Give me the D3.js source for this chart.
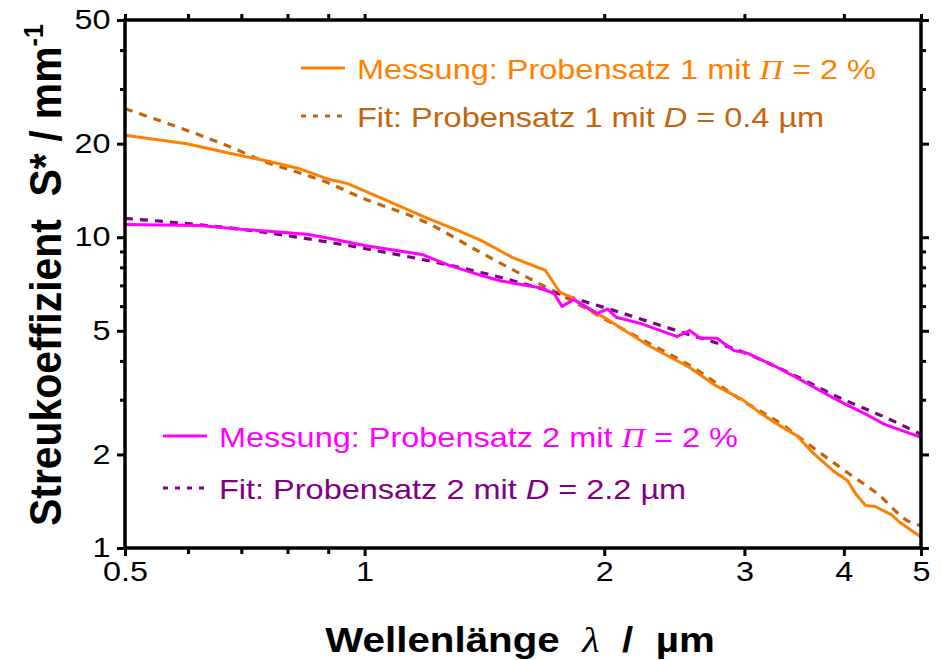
<!DOCTYPE html>
<html>
<head>
<meta charset="utf-8">
<script src="https://cdn.jsdelivr.net/npm/d3@7"></script>
<style>
  body { margin: 0; background: #fff; }
  text { font-family: "Liberation Sans", Arial, sans-serif; white-space: pre; }
</style>
</head>
<body>
<div id="chart"></div>
<script>
// data
var xMajor = [0.5, 1, 2, 3, 4, 5];
var xMinor = [0.6, 0.7, 0.8, 0.9];
var yMajor = [1, 2, 5, 10, 20, 50];
var yMinor = [3, 4, 6, 7, 8, 9, 30, 40];

var meas1Lambda = [0.5, 0.598, 0.672, 0.754, 0.829, 0.898, 0.95, 1.046, 1.2, 1.3, 1.4, 1.535, 1.686, 1.76, 1.82, 1.94, 2.01, 2.27, 2.56, 2.75, 2.99, 3.14, 3.32, 3.49, 3.66, 3.87, 4.04, 4.15, 4.26, 4.38, 4.59, 4.7, 5.0];
var meas1S      = [21.3, 20.0, 18.7, 17.6, 16.6, 15.4, 14.9, 13.4, 11.5, 10.6, 9.77, 8.6, 7.83, 6.64, 6.40, 5.73, 5.48, 4.49, 3.81, 3.35, 2.99, 2.72, 2.48, 2.30, 2.02, 1.78, 1.65, 1.48, 1.37, 1.36, 1.28, 1.21, 1.085];

var fit1Lambda = [0.5, 0.609, 0.672, 0.754, 0.829, 0.898, 0.978, 1.2, 1.4, 1.61, 1.8, 2.07, 2.24, 2.56, 3.0, 3.32, 3.6, 4.04, 4.4, 4.85, 5.0];
var fit1S      = [25.9, 21.7, 19.7, 17.4, 16.1, 15.0, 13.6, 11.1, 8.92, 7.37, 6.35, 5.2, 4.66, 3.87, 2.95, 2.53, 2.17, 1.75, 1.50, 1.21, 1.18];

var meas2Lambda = [0.5, 0.62, 0.7, 0.78, 0.85, 0.905, 1.0, 1.18, 1.28, 1.4, 1.48, 1.66, 1.73, 1.77, 1.83, 1.96, 2.02, 2.07, 2.22, 2.47, 2.56, 2.64, 2.77, 2.91, 3.03, 3.3, 3.5, 3.87, 4.0, 4.28, 4.5, 5.0];
var meas2S      = [10.99, 10.9, 10.6, 10.4, 10.2, 9.9, 9.4, 8.8, 8.1, 7.54, 7.24, 6.88, 6.59, 5.99, 6.3, 5.69, 5.87, 5.53, 5.28, 4.79, 5.01, 4.73, 4.73, 4.32, 4.23, 3.81, 3.52, 3.05, 2.92, 2.68, 2.5, 2.27];

var fit2Lambda = [0.5, 0.7, 1.0, 1.4, 2.0, 2.5, 3.0, 3.5, 4.0, 4.5, 5.0];
var fit2S      = [11.5, 10.6, 9.2, 7.7, 5.94, 4.95, 4.25, 3.55, 3.0, 2.64, 2.32];

var width = 941;
var height = 660;
var mLeft = 125, mRight = 921, mTop = 20, mBottom = 548;
var stretch = 1.2;

var svg = d3.select("#chart")
  .append("svg")
    .attr("width", width)
    .attr("height", height);

var x = d3.scaleLog().domain([0.5, 5]).range([mLeft, mRight]);
var y = d3.scaleLog().domain([1, 50]).range([mBottom, mTop]);

function zip(a, b) { return a.map(function(v, i) { return [v, b[i]]; }); }

var line = d3.line()
  .x(function(d) { return x(d[0]); })
  .y(function(d) { return y(d[1]); });
var smooth = d3.line()
  .x(function(d) { return x(d[0]); })
  .y(function(d) { return y(d[1]); })
  .curve(d3.curveMonotoneX);

// curves
svg.append("path").datum(zip(fit1Lambda, fit1S))
  .attr("d", smooth).attr("fill", "none")
  .attr("stroke", "#c4650c").attr("stroke-width", 3.2).attr("stroke-dasharray", "8,7");
svg.append("path").datum(zip(fit2Lambda, fit2S))
  .attr("d", smooth).attr("fill", "none")
  .attr("stroke", "#800080").attr("stroke-width", 3.2).attr("stroke-dasharray", "8,7");
svg.append("path").datum(zip(meas1Lambda, meas1S))
  .attr("d", line).attr("fill", "none")
  .attr("stroke", "#ff8000").attr("stroke-width", 3).attr("stroke-linejoin", "round");
svg.append("path").datum(zip(meas2Lambda, meas2S))
  .attr("d", line).attr("fill", "none")
  .attr("stroke", "#ff00ff").attr("stroke-width", 3).attr("stroke-linejoin", "round");

// axes
function styleAxis(g) {
  g.select(".domain").remove();
  g.selectAll("line").attr("stroke", "#000").attr("stroke-width", 3);
  g.selectAll("text").attr("fill", "#000").style("font-size", "27px");
}

var bottomAx = svg.append("g").attr("transform", "translate(0," + mBottom + ")")
  .call(d3.axisBottom(x).tickValues(xMajor).tickFormat(d3.format("")).tickSize(8).tickPadding(6))
  .call(styleAxis);
bottomAx.selectAll("text").attr("transform", "scale(" + stretch + ",1)");
svg.append("g").attr("transform", "translate(0," + mBottom + ")")
  .call(d3.axisBottom(x).tickValues(xMinor).tickFormat("").tickSize(6)).call(styleAxis);

svg.append("g").attr("transform", "translate(0," + mTop + ")")
  .call(d3.axisTop(x).tickValues(xMajor.concat(xMinor)).tickFormat("").tickSize(6)).call(styleAxis);

var leftAx = svg.append("g").attr("transform", "translate(" + mLeft + ",0)")
  .call(d3.axisLeft(y).tickValues(yMajor).tickFormat(d3.format("")).tickSize(8).tickPadding(4))
  .call(styleAxis);
leftAx.selectAll("text").attr("transform", "scale(" + stretch + ",1)");
svg.append("g").attr("transform", "translate(" + mLeft + ",0)")
  .call(d3.axisLeft(y).tickValues(yMinor).tickFormat("").tickSize(5)).call(styleAxis);

svg.append("g").attr("transform", "translate(" + mRight + ",0)")
  .call(d3.axisRight(y).tickValues(yMajor).tickFormat("").tickSize(8)).call(styleAxis);
svg.append("g").attr("transform", "translate(" + mRight + ",0)")
  .call(d3.axisRight(y).tickValues(yMinor).tickFormat("").tickSize(5)).call(styleAxis);

// frame
svg.append("rect")
  .attr("x", mLeft).attr("y", mTop)
  .attr("width", mRight - mLeft).attr("height", mBottom - mTop)
  .attr("fill", "none").attr("stroke", "#000").attr("stroke-width", 3.5);

// axis titles
var xt = svg.append("text")
  .attr("transform", "translate(520,652) scale(1.12,1)")
  .attr("text-anchor", "middle")
  .style("font-size", "36px").style("font-weight", "bold");
xt.append("tspan").text("Wellenlänge  ");
xt.append("tspan").text("λ").style("font-family", "'Liberation Serif', serif").style("font-style", "italic").style("font-weight", "normal");
xt.append("tspan").text("  /  µm");

var yt = svg.append("text")
  .attr("transform", "translate(61,275) rotate(-90) scale(0.93,1)")
  .attr("text-anchor", "middle")
  .style("font-size", "44px").style("font-weight", "bold");
yt.append("tspan").text("Streukoeffizient  S* / mm");
yt.append("tspan").text("-1").attr("dy", -18).style("font-size", "27px");

// legend
var legend = [
  { x: 301, y: 68, color: "#ff8000", dash: null, label: "Messung: Probensatz 1 mit ", sym: "Π", symFont: "serif", rest: " = 2 %" },
  { x: 301, y: 116, color: "#c4650c", dash: "5,7", label: "Fit: Probensatz 1 mit ", sym: "D", symFont: "sans", rest: " = 0.4 µm" },
  { x: 163, y: 436, color: "#ff00ff", dash: null, label: "Messung: Probensatz 2 mit ", sym: "Π", symFont: "serif", rest: " = 2 %" },
  { x: 163, y: 488, color: "#800080", dash: "5,7", label: "Fit: Probensatz 2 mit ", sym: "D", symFont: "sans", rest: " = 2.2 µm" }
];

var lg = svg.selectAll(".lg").data(legend).enter().append("g");
lg.append("line")
  .attr("x1", function(d) { return d.x; })
  .attr("x2", function(d) { return d.x + 44; })
  .attr("y1", function(d) { return d.y; })
  .attr("y2", function(d) { return d.y; })
  .attr("stroke", function(d) { return d.color; })
  .attr("stroke-width", 3)
  .attr("stroke-dasharray", function(d) { return d.dash; });
var lt = lg.append("text")
  .attr("transform", function(d) { return "translate(" + (d.x + 56) + "," + (d.y + 11) + ") scale(1.16,1)"; })
  .attr("fill", function(d) { return d.color; })
  .style("font-size", "28px");
lt.append("tspan").text(function(d) { return d.label; });
lt.append("tspan").text(function(d) { return d.sym; })
  .style("font-style", "italic")
  .style("font-family", function(d) { return d.symFont == "serif" ? "'Liberation Serif', serif" : null; });
lt.append("tspan").text(function(d) { return d.rest; });
</script>
</body>
</html>
